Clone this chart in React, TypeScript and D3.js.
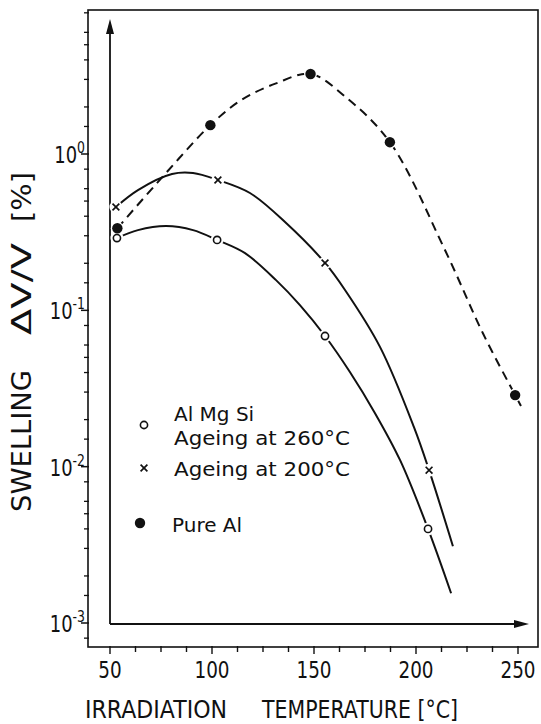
import { useEffect, useRef } from "react";
import * as d3 from "d3";

// measured points: irradiation temperature [°C] and swelling dV/V [%]
const tempAgeing260 = [53.4, 102.5, 155.4, 205.9];
const swellAgeing260 = [0.29, 0.282, 0.0685, 0.004];
const tempAgeing200 = [52.9, 102.9, 155.4, 206.4];
const swellAgeing200 = [0.458, 0.682, 0.201, 0.0095];
const tempPureAl = [53.6, 99.2, 148.3, 187.2, 248.6];
const swellPureAl = [0.335, 1.53, 3.25, 1.19, 0.0287];

// the hand drawn curves
const curveTemp260 = [53.4, 63.7, 77.5, 90.7, 102.5, 116.2, 131.4, 143.1, 155.4, 167.6, 179.9, 192.2, 205.9, 217.2];
const curveSwell260 = [0.29, 0.326, 0.346, 0.326, 0.282, 0.232, 0.156, 0.108, 0.0685, 0.0403, 0.022, 0.011, 0.004, 0.00155];
const curveTemp200 = [52.9, 63.7, 80.4, 90.7, 102.9, 118.6, 135.8, 155.4, 165.2, 182.4, 199, 206.4, 218.1];
const curveSwell200 = [0.458, 0.588, 0.745, 0.756, 0.682, 0.563, 0.367, 0.201, 0.135, 0.0582, 0.0179, 0.0095, 0.0031];
const curveTempPure = [53.6, 76.4, 99.2, 114.5, 131.4, 148.3, 165.2, 187.2, 214.2, 232.8, 248.6, 252.3];
const curveSwellPure = [0.335, 0.73, 1.53, 2.22, 2.83, 3.25, 2.33, 1.19, 0.243, 0.0713, 0.0287, 0.0233];

const xTickLabels = [50, 100, 150, 200, 250];
const yDecades = [-3, -2, -1, 0];
const yMinor = [1.5, 2, 3, 4, 5, 6, 8];

const zip = (a: number[], b: number[]) => a.map((t, i) => [t, b[i]] as [number, number]);

function SwellingChart() {
    const svgRef = useRef<SVGSVGElement>(null);

    useEffect(() => {
        const w = 541;
        const h = 724;
        const ink = "#111";
        const svg = d3.select(svgRef.current)
            .attr("width", w)
            .attr("height", h)
            .style("background", "#fff")
            .attr("font-family", "'DejaVu Sans', sans-serif");
        svg.selectAll("*").remove();

        const x = d3.scaleLinear().domain([50, 250]).range([110, 518]);
        const y = d3.scaleLog().domain([1e-3, 1]).range([623, 154]);

        // outer frame
        const fl = 88, fr = 538, ft = 10, fb = 647;
        svg.append("rect")
            .attr("x", fl).attr("y", ft)
            .attr("width", fr - fl).attr("height", fb - ft)
            .attr("fill", "none").attr("stroke", ink).attr("stroke-width", 1.6);

        // bottom ticks, every 12.5 degrees
        const xt = d3.range(50, 250.1, 12.5);
        svg.append("g").selectAll("line").data(xt).join("line")
            .attr("x1", (d) => x(d)).attr("x2", (d) => x(d))
            .attr("y1", fb - 1).attr("y2", (d) => fb + (d % 50 === 0 ? 7 : 5))
            .attr("stroke", ink).attr("stroke-width", 1.4);

        // condensed look of the original lettering -> squeeze horizontally
        svg.append("g").selectAll("text").data(xTickLabels).join("text")
            .attr("transform", (d) => `translate(${x(d)},678) scale(0.8,1)`)
            .attr("text-anchor", "middle")
            .attr("font-size", 23)
            .attr("fill", ink)
            .text((d) => d);

        // left ticks on the frame, log decades + minor
        const minorVals: number[] = [];
        [-4, -3, -2, -1, 0].forEach((d) => yMinor.forEach((m) => minorVals.push(m * 10 ** d)));
        const ymin = minorVals.filter((v) => y(v) > ft + 2 && y(v) < fb - 2);
        svg.append("g").selectAll("line").data(ymin).join("line")
            .attr("x1", fl - 4).attr("x2", fl + 1)
            .attr("y1", (d) => y(d)).attr("y2", (d) => y(d))
            .attr("stroke", ink).attr("stroke-width", 1.3);
        svg.append("g").selectAll("line").data(yDecades).join("line")
            .attr("x1", fl - 7).attr("x2", fl + 1)
            .attr("y1", (d) => y(10 ** d)).attr("y2", (d) => y(10 ** d))
            .attr("stroke", ink).attr("stroke-width", 1.5);

        const yl = svg.append("g").selectAll("text").data(yDecades).join("text")
            .attr("transform", (d) => `translate(${fl - 3},${y(10 ** d) + 9}) scale(0.78,1)`)
            .attr("text-anchor", "end")
            .attr("fill", ink)
            .attr("font-size", 23);
        yl.append("tspan").text("10");
        yl.append("tspan").attr("dy", -10).attr("font-size", 16).text((d) => (d === 0 ? "0" : String(d)));

        // inner axes with arrows
        const ax = x(50), ay = y(1e-3) + 1;
        svg.append("line").attr("x1", ax).attr("x2", ax).attr("y1", ay).attr("y2", 30)
            .attr("stroke", ink).attr("stroke-width", 1.8);
        svg.append("path").attr("d", `M${ax},19 L${ax - 4},34 L${ax + 4},34 Z`).attr("fill", ink);
        svg.append("line").attr("x1", ax).attr("x2", 518).attr("y1", ay).attr("y2", ay)
            .attr("stroke", ink).attr("stroke-width", 1.8);
        svg.append("path").attr("d", `M529,${ay} L514,${ay - 4} L514,${ay + 4} Z`).attr("fill", ink);

        // curves
        const line = d3.line<[number, number]>()
            .x((d) => x(d[0]))
            .y((d) => y(d[1]))
            .curve(d3.curveCatmullRom.alpha(0.5));

        svg.append("path").attr("d", line(zip(curveTemp260, curveSwell260)))
            .attr("fill", "none").attr("stroke", ink).attr("stroke-width", 2);
        svg.append("path").attr("d", line(zip(curveTemp200, curveSwell200)))
            .attr("fill", "none").attr("stroke", ink).attr("stroke-width", 2);
        svg.append("path").attr("d", line(zip(curveTempPure, curveSwellPure)))
            .attr("fill", "none").attr("stroke", ink).attr("stroke-width", 2)
            .attr("stroke-dasharray", "9 6");

        // white gaps round the markers
        const all = [
            ...zip(tempAgeing260, swellAgeing260),
            ...zip(tempAgeing200, swellAgeing200),
            ...zip(tempPureAl, swellPureAl),
        ];
        svg.append("g").selectAll("circle").data(all).join("circle")
            .attr("cx", (d) => x(d[0])).attr("cy", (d) => y(d[1])).attr("r", 6.5)
            .attr("fill", "#fff");

        const drawOpen = (g: any, cx: number, cy: number) =>
            g.append("circle").attr("cx", cx).attr("cy", cy).attr("r", 3.6)
                .attr("fill", "#fff").attr("stroke", ink).attr("stroke-width", 1.6);
        const drawCross = (g: any, cx: number, cy: number) =>
            g.append("path").attr("d", `M${cx - 3.4},${cy - 3.4}L${cx + 3.4},${cy + 3.4}M${cx - 3.4},${cy + 3.4}L${cx + 3.4},${cy - 3.4}`)
                .attr("stroke", ink).attr("stroke-width", 1.7).attr("fill", "none");
        const drawDot = (g: any, cx: number, cy: number) =>
            g.append("circle").attr("cx", cx).attr("cy", cy).attr("r", 5.2).attr("fill", ink);

        const mk = svg.append("g");
        zip(tempAgeing260, swellAgeing260).forEach((d) => drawOpen(mk, x(d[0]), y(d[1])));
        zip(tempAgeing200, swellAgeing200).forEach((d) => drawCross(mk, x(d[0]), y(d[1])));
        zip(tempPureAl, swellPureAl).forEach((d) => drawDot(mk, x(d[0]), y(d[1])));

        // legend
        const lg = svg.append("g").attr("font-size", 20).attr("fill", ink);
        drawOpen(lg, 144, 425);
        lg.append("text").attr("x", 174).attr("y", 421).text("Al Mg Si");
        lg.append("text").attr("x", 174).attr("y", 445).attr("textLength", 176).attr("lengthAdjust", "spacingAndGlyphs").text("Ageing at 260°C");
        drawCross(lg, 144, 468);
        lg.append("text").attr("x", 174).attr("y", 476).attr("textLength", 176).attr("lengthAdjust", "spacingAndGlyphs").text("Ageing at 200°C");
        drawDot(lg, 140, 523);
        lg.append("text").attr("x", 172).attr("y", 532).text("Pure Al");

        // axis titles
        const t = svg.append("g").attr("fill", ink);
        const put = (s: string, px: number, py: number, len: number, size: number, rot = false) =>
            t.append("text")
                .attr("transform", rot ? `translate(${px},${py}) rotate(-90)` : `translate(${px},${py})`)
                .attr("font-size", size)
                .attr("textLength", len).attr("lengthAdjust", "spacingAndGlyphs")
                .text(s);
        put("IRRADIATION", 85, 718, 142, 25);
        put("TEMPERATURE [°C]", 262, 718, 196, 25);
        put("SWELLING", 31, 512, 142, 27, true);
        put("ΔV/V", 31, 335, 92, 27, true);
        put("[%]", 31, 222, 50, 27, true);
    }, []);

    return <svg ref={svgRef} style={{ position: "absolute", left: 0, top: 0, display: "block" }}></svg>;
}

export default function App() {
    return <SwellingChart />;
}
